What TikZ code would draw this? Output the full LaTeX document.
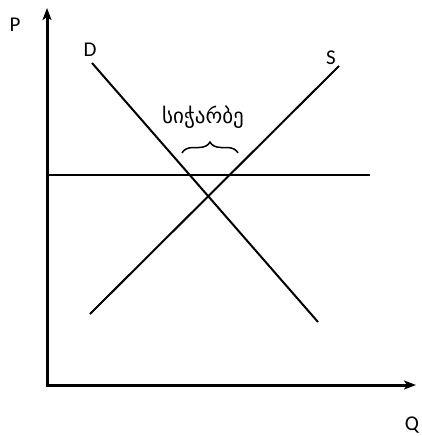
\documentclass[tikz,border=0pt]{standalone}
\usepackage{fontspec}
\setmainfont{Carlito}
\newfontfamily\geofont[Script=Georgian]{DejaVu Sans}
\usetikzlibrary{arrows.meta,decorations.pathreplacing}
\begin{document}
\begin{tikzpicture}[x=1pt,y=-1pt,
  axis/.style={line width=3pt,-{Stealth[length=12pt,width=9pt,inset=3pt]}},
  curve/.style={line width=2pt},
  lbl/.style={font=\fontsize{21}{24}\selectfont,inner sep=0pt}]
\useasboundingbox (0,0) rectangle (421,436);
\coordinate (O) at (47,385);
\coordinate (Ytop) at (47,8);
\coordinate (Xend) at (416,385);
\draw[axis] (47,386.5) -- (Ytop);
\draw[axis] (45.5,385) -- (Xend);
\coordinate (D1) at (92,63);
\coordinate (D2) at (318,322);
\coordinate (S1) at (90,314);
\coordinate (S2) at (339,66);
\coordinate (H1) at (48,175);
\coordinate (H2) at (370,175);
\draw[curve] (D1) -- (D2);
\draw[curve] (S1) -- (S2);
\draw[curve] (H1) -- (H2);
\coordinate (B1) at (182,153);
\coordinate (B2) at (238,153);
\draw[line width=1.5pt,decorate,decoration={brace,amplitude=11pt}] (B1) -- (B2);
\node[lbl] (P) at (15,25) {P};
\node[lbl] (D) at (90,50) {D};
\node[lbl] (S) at (331,58) {S};
\node[lbl] (Q) at (412,425) {Q};
\node[inner sep=0pt,font=\geofont\fontsize{21}{24}\selectfont] (sur) at (203,117) {სიჭარბე};
\end{tikzpicture}
\end{document}
